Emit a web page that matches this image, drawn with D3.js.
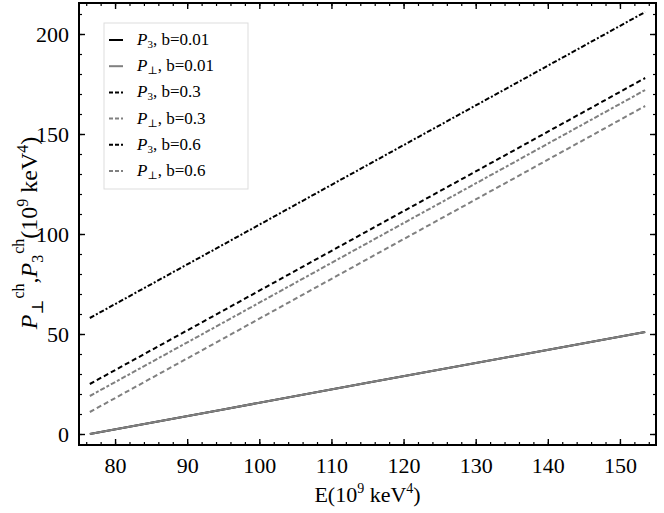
<!DOCTYPE html>
<html>
<head>
<meta charset="utf-8">
<script src="https://cdn.jsdelivr.net/npm/d3@7"></script>
<style>
  body { margin: 0; background: #fff; }
  svg { font-family: "Liberation Serif", "DejaVu Serif", serif; }
</style>
</head>
<body>
<script>
// SVG Dimensions
var width = 664;
var height = 513;
var margins = { left: 79, right: 8, top: 3, bottom: 68 };
var plotWidth = width - margins.left - margins.right;
var plotHeight = height - margins.top - margins.bottom;

// data
var energy = [76.5, 95, 115, 135, 153.5];
var p3_b001 = [0, 12.3, 25.6, 38.8, 51];
var pp_b001 = [0, 12.3, 25.6, 38.8, 51];
var p3_b03 = [25, 61.7, 101.5, 141.2, 178];
var pp_b03 = [11, 47.7, 87.5, 127.2, 164];
var p3_b06 = [58, 94.7, 134.5, 174.2, 211];
var pp_b06 = [19, 55.7, 95.5, 135.2, 172];

var xTicks = [80, 90, 100, 110, 120, 130, 140, 150];
var yTicks = [0, 50, 100, 150, 200];

var series = [
    { sub: "3", b: "0.01", values: p3_b001, color: "#000", dash: null },
    { sub: "\u22a5", b: "0.01", values: pp_b001, color: "#808080", dash: null },
    { sub: "3", b: "0.3", values: p3_b03, color: "#000", dash: "5,3" },
    { sub: "\u22a5", b: "0.3", values: pp_b03, color: "#808080", dash: "5,3" },
    { sub: "3", b: "0.6", values: p3_b06, color: "#000", dash: "5,2,2,2" },
    { sub: "\u22a5", b: "0.6", values: pp_b06, color: "#808080", dash: "5,2,3,2" }
];

var svg = d3.select("body").append("svg")
            .attr("width", width)
            .attr("height", height);

var graph = svg.append("g")
            .attr("transform", "translate(" + margins.left + "," + margins.top + ")");

var x = d3.scaleLinear().domain([75, 155]).range([0, plotWidth]);
var y = d3.scaleLinear().domain([-5.5, 215.5]).range([plotHeight, 0]);

var minorX = d3.range(76, 155, 2);
var minorY = d3.range(0, 215, 10);

// ticks on all four sides, pointing inward
[["bottom", d3.axisBottom, plotHeight], ["top", d3.axisTop, 0]].forEach(function(a) {
    var g = graph.append("g").attr("transform", "translate(0," + a[2] + ")");
    g.call(a[1](x).tickValues(minorX).tickSize(-3).tickFormat(""));
    g.selectAll(".domain").remove();
    g.selectAll("line").attr("stroke-width", 1.2);
    var g2 = graph.append("g").attr("transform", "translate(0," + a[2] + ")");
    var ax = a[1](x).tickValues(xTicks).tickSize(-6).tickPadding(12);
    if (a[0] == "top") ax.tickFormat("");
    g2.call(ax);
    g2.attr("font-size", 22).attr("font-family", "Liberation Serif");
    g2.selectAll(".domain").remove();
    g2.selectAll("line").attr("stroke-width", 1.4);
    g2.selectAll("text").attr("fill", "#000");
});

[["left", d3.axisLeft, 0], ["right", d3.axisRight, plotWidth]].forEach(function(a) {
    var g = graph.append("g").attr("transform", "translate(" + a[2] + ",0)");
    g.call(a[1](y).tickValues(minorY).tickSize(-3).tickFormat(""));
    g.selectAll(".domain").remove();
    g.selectAll("line").attr("stroke-width", 1.2);
    var g2 = graph.append("g").attr("transform", "translate(" + a[2] + ",0)");
    var ax = a[1](y).tickValues(yTicks).tickSize(-6).tickPadding(10);
    if (a[0] == "right") ax.tickFormat("");
    g2.call(ax);
    g2.attr("font-size", 22).attr("font-family", "Liberation Serif");
    g2.selectAll(".domain").remove();
    g2.selectAll("line").attr("stroke-width", 1.4);
    g2.selectAll("text").attr("fill", "#000");
});

// frame
graph.append("rect")
    .attr("width", plotWidth)
    .attr("height", plotHeight)
    .attr("fill", "none")
    .attr("stroke", "#000")
    .attr("stroke-width", 2);

var line = d3.line()
    .x(function(d, i) { return x(energy[i]); })
    .y(function(d) { return y(d); });

graph.selectAll(".series")
    .data(series)
    .enter()
    .append("path")
    .attr("class", "series")
    .attr("d", function(d) { return line(d.values); })
    .attr("fill", "none")
    .attr("stroke", function(d) { return d.color; })
    .attr("stroke-width", 2)
    .attr("stroke-dasharray", function(d) { return d.dash; });

// legend
var legend = svg.append("g").attr("transform", "translate(104,23)");
legend.append("rect")
    .attr("width", 144)
    .attr("height", 166)
    .attr("fill", "#fff")
    .attr("stroke", "#ddd")
    .attr("stroke-width", 1);

var entry = legend.selectAll(".entry")
    .data(series)
    .enter()
    .append("g")
    .attr("transform", function(d, i) { return "translate(0," + (17 + i * 26.2) + ")"; });

entry.append("line")
    .attr("x1", 5).attr("x2", 19)
    .attr("stroke", function(d) { return d.color; })
    .attr("stroke-width", 2)
    .attr("stroke-dasharray", function(d) { return d.dash ? "4,2" : null; });

var label = entry.append("text")
    .attr("x", 33)
    .attr("y", 5)
    .attr("font-size", 17);
label.append("tspan").attr("font-style", "italic").text("P");
label.append("tspan").attr("font-size", 11).attr("dy", 3).text(function(d) { return d.sub; });
label.append("tspan").attr("dy", -3).text(function(d) { return ", b=" + d.b; });

// axis titles
var xt = svg.append("text")
    .attr("x", margins.left + plotWidth / 2)
    .attr("y", 502)
    .attr("text-anchor", "middle")
    .attr("font-size", 22);
xt.append("tspan").text("E(10");
xt.append("tspan").attr("font-size", 14).attr("dy", -9).text("9");
xt.append("tspan").attr("dy", 9).text(" keV");
xt.append("tspan").attr("font-size", 14).attr("dy", -9).text("4");
xt.append("tspan").attr("dy", 9).text(")");

var yt = svg.append("text")
    .attr("transform", "translate(37," + (margins.top + 230) + ") rotate(-90)")
    .attr("text-anchor", "middle")
    .attr("font-size", 24);
yt.append("tspan").attr("font-style", "italic").text("P");
yt.append("tspan").attr("font-size", 16).attr("dy", 6).text("\u22a5");
yt.append("tspan").attr("font-size", 16).attr("dy", -19).attr("dx", 1).text("ch");
yt.append("tspan").attr("dy", 13).text(",");
yt.append("tspan").attr("font-style", "italic").text("P");
yt.append("tspan").attr("font-size", 16).attr("dy", 6).text("3");
yt.append("tspan").attr("font-size", 16).attr("dy", -19).attr("dx", 1).text("ch");
yt.append("tspan").attr("dy", 13).text("(10");
yt.append("tspan").attr("font-size", 16).attr("dy", -9).text("9");
yt.append("tspan").attr("dy", 9).text(" keV");
yt.append("tspan").attr("font-size", 16).attr("dy", -9).text("4");
yt.append("tspan").attr("dy", 9).text(")");
</script>
</body>
</html>
